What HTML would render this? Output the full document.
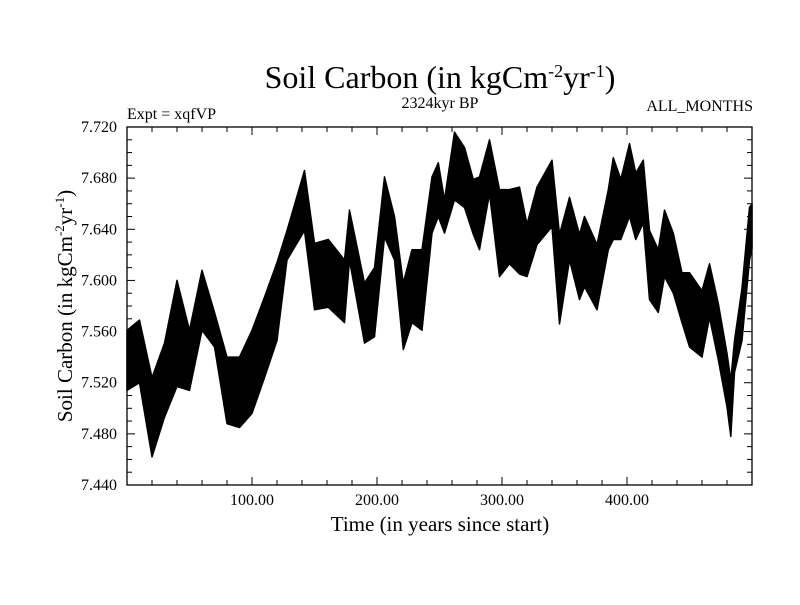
<!DOCTYPE html>
<html><head><meta charset="utf-8"><style>
body{margin:0;background:#fff}
svg text{font-family:"Liberation Serif",serif;fill:#000}
</style></head><body>
<svg id="chart" width="800" height="600">
<text x="440" y="88" font-size="32" text-anchor="middle">Soil Carbon (in kgCm<tspan dy="-11" font-size="18">-2</tspan><tspan dy="11">yr</tspan><tspan dy="-11" font-size="18">-1</tspan><tspan dy="11">)</tspan></text>
<text x="440" y="108" font-size="16" text-anchor="middle">2324kyr BP</text>
<text x="127" y="119" font-size="16">Expt = xqfVP</text>
<text x="753" y="111" font-size="16" text-anchor="end">ALL_MONTHS</text>
<text x="440" y="531" font-size="21" text-anchor="middle">Time (in years since start)</text>
<text transform="translate(72,306) rotate(-90)" font-size="21" text-anchor="middle">Soil Carbon (in kgCm<tspan dy="-8" font-size="13">-2</tspan><tspan dy="8">yr</tspan><tspan dy="-8" font-size="13">-1</tspan><tspan dy="8">)</tspan></text>
<g id="marks"></g>
<g id="axes"></g>
</svg>
<script>
const years=[0,10,20,30,40,50,60,70,80,90,100,110,120,128,142,150,161,174,178,190,198,206,214,221,228,236,244,249,254,262,270,277,282,290,298,306,314,320,328,340,346,354,362,366,376,385,389,395,402,407,413,418,425,430,437,444,450,460,466,473,480,483,486,492,498,500];
const highs=[7.561,7.569,7.524,7.551,7.600,7.561,7.608,7.575,7.540,7.540,7.561,7.587,7.614,7.639,7.686,7.629,7.632,7.616,7.655,7.598,7.610,7.681,7.650,7.598,7.624,7.624,7.681,7.692,7.663,7.716,7.704,7.679,7.681,7.710,7.671,7.671,7.673,7.644,7.673,7.694,7.636,7.665,7.636,7.650,7.628,7.671,7.696,7.679,7.707,7.684,7.694,7.639,7.624,7.655,7.637,7.606,7.606,7.592,7.613,7.582,7.543,7.522,7.553,7.594,7.657,7.660];
const lows=[7.514,7.520,7.462,7.493,7.517,7.514,7.561,7.548,7.488,7.485,7.496,7.524,7.553,7.616,7.639,7.577,7.579,7.567,7.616,7.551,7.556,7.634,7.616,7.546,7.567,7.561,7.637,7.650,7.637,7.663,7.657,7.636,7.624,7.668,7.603,7.613,7.605,7.603,7.628,7.642,7.566,7.616,7.585,7.595,7.577,7.624,7.632,7.632,7.650,7.632,7.645,7.585,7.575,7.603,7.590,7.567,7.548,7.540,7.571,7.538,7.501,7.478,7.528,7.553,7.616,7.625];
const xTicks=[100,200,300,400];
const xTickLabels=["100.00","200.00","300.00","400.00"];
const yTicks=[7.44,7.48,7.52,7.56,7.60,7.64,7.68,7.72];
const yTickLabels=["7.440","7.480","7.520","7.560","7.600","7.640","7.680","7.720"];
const X0=127,X1=752,Y0=485,Y1=127,xmin=0,xmax=500,ymin=7.44,ymax=7.72;
const sx=v=>X0+(v-xmin)/(xmax-xmin)*(X1-X0);
const sy=v=>Y0-(v-ymin)/(ymax-ymin)*(Y0-Y1);
const NS="http://www.w3.org/2000/svg";
const marks=document.getElementById('marks'),axes=document.getElementById('axes');
let pts=[];
years.forEach((y,i)=>pts.push(sx(y).toFixed(1)+','+sy(highs[i]).toFixed(1)));
for(let i=years.length-1;i>=0;i--)pts.push(sx(years[i]).toFixed(1)+','+sy(lows[i]).toFixed(1));
const band=document.createElementNS(NS,'polygon');
band.setAttribute('points',pts.join(' '));
band.setAttribute('fill','#000');band.setAttribute('stroke','#000');band.setAttribute('stroke-width','1.5');band.setAttribute('stroke-linejoin','round');


marks.appendChild(band);
const frame=document.createElementNS(NS,'rect');
frame.setAttribute('x',X0);frame.setAttribute('y',Y1);frame.setAttribute('width',X1-X0);frame.setAttribute('height',Y0-Y1);
frame.setAttribute('fill','none');frame.setAttribute('stroke','#000');frame.setAttribute('stroke-width','1.3');


axes.appendChild(frame);
function line(x1,y1,x2,y2){const l=document.createElementNS(NS,'line');l.setAttribute('x1',x1);l.setAttribute('y1',y1);l.setAttribute('x2',x2);l.setAttribute('y2',y2);l.setAttribute('stroke','#000');l.setAttribute('stroke-width','1');


axes.appendChild(l);}
function text(x,y,s,anchor,name){const t=document.createElementNS(NS,'text');t.setAttribute('x',x);t.setAttribute('y',y);t.setAttribute('font-size','16');t.setAttribute('text-anchor',anchor);t.textContent=s;


axes.appendChild(t);}
for(let v=20;v<500;v+=20){const x=sx(v);const maj=v%100===0;const L=maj?8:5;line(x,Y0,x,Y0-L);line(x,Y1,x,Y1+L);}
for(let k=1;k<28;k++){const v=ymin+k*0.01;const y=sy(v);const L=(k%4===0)?8:5;line(X0,y,X0+L,y);line(X1,y,X1-L,y);}
xTicks.forEach((v,i)=>text(sx(v),505,xTickLabels[i],'middle','x-tick-label'));
yTicks.forEach((v,i)=>text(117,sy(v)+5,yTickLabels[i],'end','y-tick-label'));
</script>
</body></html>
